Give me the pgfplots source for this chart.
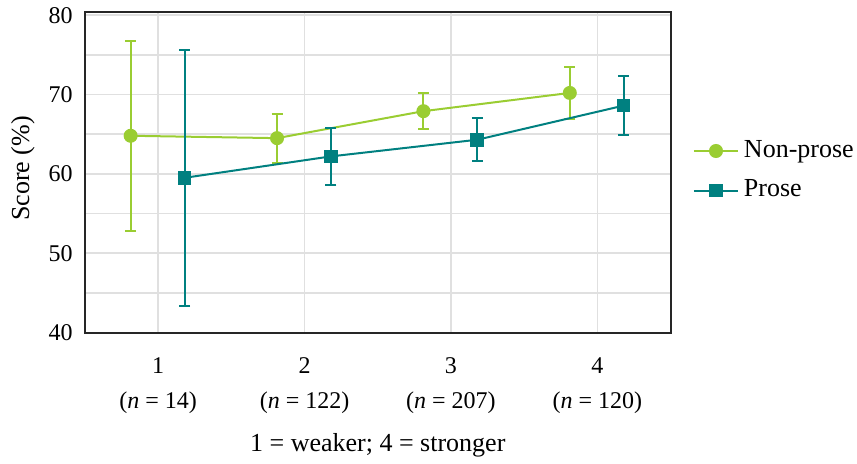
\documentclass[border=0pt]{standalone}
\usepackage{fontspec}
\setmainfont{Liberation Serif}
\usepackage{pgfplots}
\pgfplotsset{compat=1.18}
\definecolor{npgreen}{HTML}{9ACD32}
\definecolor{pteal}{HTML}{008080}
\begin{document}
\begin{tikzpicture}
\useasboundingbox (0,0) rectangle (428.5pt,231.5pt);
\begin{axis}[
  at={(42.5pt,65.25pt)}, anchor=south west,
  scale only axis, width=292.75pt, height=160.25pt,
  xmin=0.5, xmax=4.5, ymin=40, ymax=80.4,
  xtick={1,2,3,4},
  xticklabels={{1\\(\textit{n} = 14)},{2\\(\textit{n} = 122)},{3\\(\textit{n} = 207)},{4\\(\textit{n} = 120)}},
  ytick={40,50,...,80},
  minor ytick={45,55,65,75},
  grid=both,
  major grid style={draw=black!12, line width=0.75pt},
  minor grid style={draw=black!12, line width=0.75pt},
  major tick length=0pt, minor tick length=0pt,
  axis line style={draw=black!85, line width=1pt},
  /pgf/number format/assume math mode=true,
  ticklabel style={font=\fontsize{12}{17.5}\selectfont},
  xticklabel style={align=center, anchor=north, inner sep=0pt, yshift=-12.5pt},
  yticklabel style={anchor=east, inner sep=0pt, xshift=-6pt},
  ylabel={Score (\%)},
  ylabel style={at={(axis description cs:-0.0956,0.512)}, anchor=base, font=\fontsize{13}{15}\selectfont},
  xlabel={1 = weaker; 4 = stronger},
  xlabel style={at={(axis description cs:0.5,-0.37)}, anchor=base, font=\fontsize{13}{15}\selectfont},
  legend style={at={(axis description cs:1.0384,0.5047)}, anchor=west, draw=none, fill=none,
    inner sep=0pt, outer sep=0pt, row sep=7.75pt, font=\fontsize{13}{15}\selectfont,
    nodes={inner xsep=2.5pt, inner ysep=0pt, text height=9pt, text depth=3pt}},
  legend cell align=left,
  legend image code/.code={\draw[mark repeat=2,mark phase=2,#1] plot coordinates {(0pt,0pt) (11pt,0pt) (22pt,0pt)};},
]
\addplot[npgreen, line width=1pt, mark=*, mark size=3pt, mark options={solid, fill=npgreen},
  error bars/.cd, y dir=both, y explicit, error bar style={line width=1pt},
  error mark options={rotate=90, line width=1pt, mark size=2.75pt}]
coordinates {(0.812,64.8) +- (0,12.0) (1.812,64.5) +- (0,3.1) (2.812,67.9) +- (0,2.3) (3.812,70.2) +- (0,3.3)};
\addlegendentry{Non-prose}
\addplot[pteal, line width=1pt, mark=square*, mark size=2.9pt, mark options={solid, fill=pteal},
  error bars/.cd, y dir=both, y explicit, error bar style={line width=1pt},
  error mark options={rotate=90, line width=1pt, mark size=2.75pt}]
coordinates {(1.18,59.5) +- (0,16.1) (2.18,62.2) +- (0,3.6) (3.18,64.3) +- (0,2.7) (4.18,68.6) +- (0,3.7)};
\addlegendentry{Prose}
\end{axis}
\end{tikzpicture}
\end{document}
